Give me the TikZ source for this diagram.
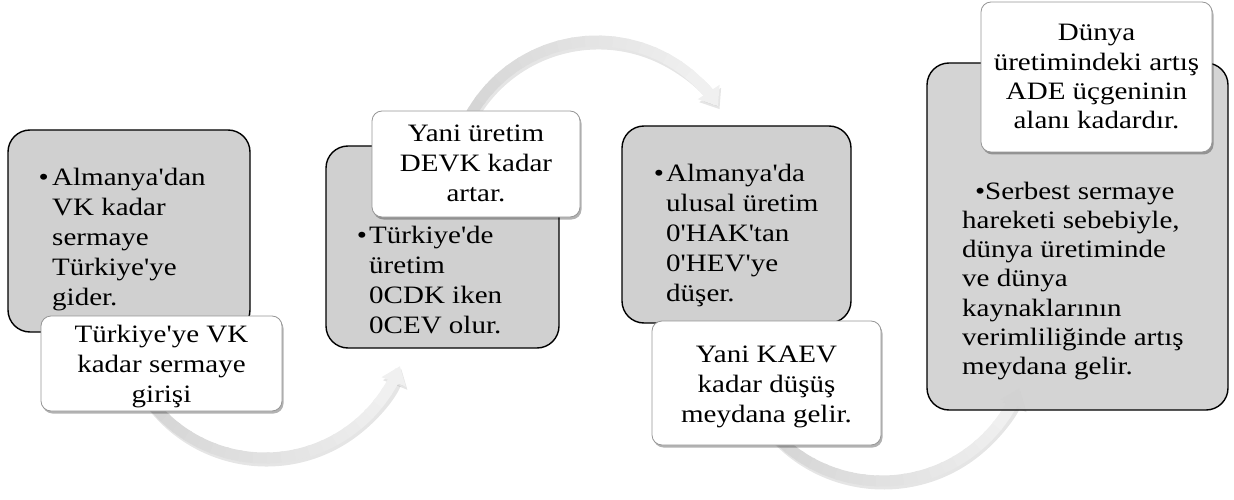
\documentclass[tikz,border=0pt]{standalone}
\usepackage{fontspec}
\setmainfont{Liberation Serif}[Ligatures=TeXOff]
\usetikzlibrary{arrows.meta,shadows}
\definecolor{boxgray}{RGB}{208,208,208}
\definecolor{wborder}{RGB}{150,150,150}
\renewcommand\arraystretch{1}
\newcommand\gradarc[5]{%
  \draw[line width=11pt, black, opacity=0.10, transform canvas={xshift=1.5pt,yshift=-3pt}, -{Triangle[width=25pt,length=17pt]}]
    (#1) ++(#3:#2) arc[start angle=#3, end angle=#5, radius=#2];
  \foreach \i in {0,...,19}{%
    \pgfmathsetmacro\a{#3+(#4-#3)*\i/20}%
    \pgfmathsetmacro\b{#3+(#4-#3)*(\i+1.2)/20}%
    \pgfmathsetmacro\c{17-11*\i/19}%
    \draw[line width=11pt, draw=black!\c] (#1) ++(\a:#2) arc[start angle=\a, end angle=\b, radius=#2];
  }%
  \draw[line width=11pt, draw=black!6, fill=black!6, -{Triangle[width=25pt,length=17pt]}]
    (#1) ++(#4:#2) arc[start angle=#4, end angle=#5, radius=#2];
}
\begin{document}
\begin{tikzpicture}[x=1pt,y=-1pt,
  graybox/.style={draw=black, line width=1.4pt, fill=boxgray, rounded corners=22pt, inner sep=0pt},
  whitebox/.style={draw=wborder, line width=0.8pt, fill=white, rounded corners=10pt, inner sep=0pt,
     drop shadow={shadow xshift=1.5pt, shadow yshift=-2.5pt, fill=black, opacity=0.3}},
  txt/.style={inner sep=0pt, xscale=1.16, transform shape, font=\fontsize{25}{30}\selectfont},
  txtb/.style={inner sep=0pt, xscale=1.16, transform shape, font=\fontsize{25}{29.3}\selectfont}]
\useasboundingbox (0,0) rectangle (1234,500);

\coordinate (c1) at (265,313);
\coordinate (c2) at (597,186);
\coordinate (c3) at (882,333);

% arrows
\gradarc{c1}{145}{145}{33.5}{21.5}
\gradarc{c2}{145}{-155}{-45.4}{-33.4}
\gradarc{c3}{148}{140}{34}{22}

% gray boxes
\node[graybox, minimum width=242pt, minimum height=202pt] (g1) at (129,231) {};
\node[graybox, minimum width=233pt, minimum height=202pt] (g2) at (442.5,247) {};
\node[graybox, minimum width=229pt, minimum height=197pt] (g3) at (736.5,224.5) {};
\node[graybox, fill opacity=0.92, minimum width=301pt, minimum height=347pt] (g4) at (1077.5,236.5) {};

% white boxes
\node[whitebox, minimum width=241pt, minimum height=95pt] (w1) at (161.5,363.5) {};
\node[whitebox, minimum width=208pt, minimum height=106pt] (w2) at (476,164) {};
\node[whitebox, minimum width=229pt, minimum height=124pt] (w3) at (766.5,383) {};
\node[whitebox, minimum width=231pt, minimum height=150pt] (w4) at (1096.5,77) {};

% gray box texts
\node[txt, anchor=base west] (tg1) at (52,185) {\begin{tabular}[t]{@{}l@{}}\llap{\textbullet\kern3pt}Almanya'dan\\VK kadar\\sermaye\\Türkiye'ye\\gider.\end{tabular}};
\node[txt, anchor=base west] (tg2) at (369,243) {\begin{tabular}[t]{@{}l@{}}\llap{\textbullet\kern2pt}Türkiye'de\\üretim\\0CDK iken\\0CEV olur.\end{tabular}};
\node[txt, anchor=base west] (tg3) at (666,181) {\begin{tabular}[t]{@{}l@{}}\llap{\textbullet\kern2pt}Almanya'da\\ulusal üretim\\0'HAK'tan\\0'HEV'ye\\düşer.\end{tabular}};
\node[txtb, anchor=base west] (tg4) at (962,199) {\begin{tabular}[t]{@{}l@{}}\hspace*{11pt}\textbullet Serbest sermaye\\hareketi sebebiyle,\\dünya üretiminde\\ve dünya\\kaynaklarının\\verimliliğinde artış\\meydana gelir.\end{tabular}};

% white box texts
\node[txt, anchor=base] (tw1) at (161.5,342) {\begin{tabular}[t]{@{}c@{}}Türkiye'ye VK\\kadar sermaye\\girişi\end{tabular}};
\node[txt, anchor=base] (tw2) at (476,142) {\begin{tabular}[t]{@{}c@{}}Yani üretim\\DEVK kadar\\artar.\end{tabular}};
\node[txt, anchor=base] (tw3) at (766.5,362) {\begin{tabular}[t]{@{}c@{}}Yani KAEV\\kadar düşüş\\meydana gelir.\end{tabular}};
\node[txtb, anchor=base] (tw4) at (1096.5,41) {\begin{tabular}[t]{@{}c@{}}Dünya\\üretimindeki artış\\ADE üçgeninin\\alanı kadardır.\end{tabular}};
\end{tikzpicture}
\end{document}
